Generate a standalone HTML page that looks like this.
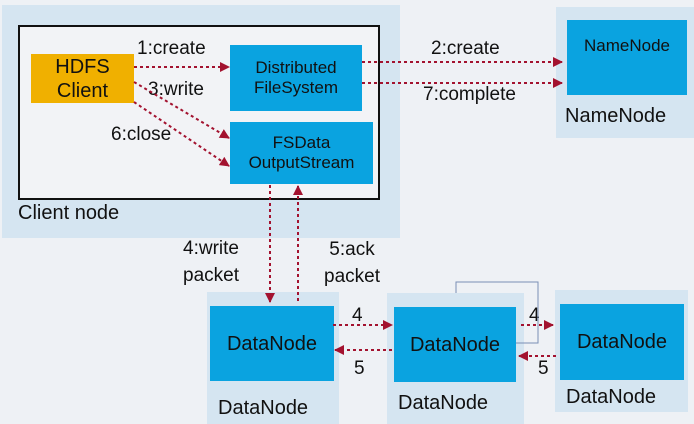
<!DOCTYPE html>
<html><head><meta charset="utf-8"><style>
body{margin:0;width:694px;height:424px;background:#eef1f5;overflow:hidden;font-family:"Liberation Sans",sans-serif;}
.a{position:absolute;}
.o{position:absolute;background:#d5e5f1;}
.b{position:absolute;background:#0aa3e0;color:#111;text-align:center;display:flex;align-items:center;justify-content:center;line-height:1.2;}
.t{position:absolute;color:#111;font-size:19px;white-space:nowrap;}
</style></head><body>
<div class="o" style="left:2px;top:5px;width:398px;height:233px"></div>
<div class="a" style="left:18px;top:25px;width:358px;height:171px;background:#f2f3f6;border:2px solid #111"></div>
<div class="b" style="left:31px;top:54px;width:103px;height:49px;background:#f0b000;font-size:20px">HDFS<br>Client</div>
<div class="b" style="left:230px;top:45px;width:132px;height:66px;font-size:17px">Distributed<br>FileSystem</div>
<div class="b" style="left:230px;top:122px;width:143px;height:62px;font-size:17px">FSData<br>OutputStream</div>
<div class="t" style="left:18px;top:202px;font-size:20px">Client node</div>

<div class="o" style="left:556px;top:7px;width:138px;height:131px"></div>
<div class="b" style="left:567px;top:20px;width:120px;height:75px;font-size:17px;padding-bottom:22px;box-sizing:border-box">NameNode</div>
<div class="t" style="left:565px;top:105px;font-size:20px">NameNode</div>

<div class="o" style="left:207px;top:292px;width:132px;height:132px"></div>
<div class="b" style="left:210px;top:306px;width:124px;height:75px;font-size:20px">DataNode</div>
<div class="t" style="left:218px;top:397px;font-size:20px">DataNode</div>
<div class="o" style="left:387px;top:293px;width:137px;height:131px"></div>
<div class="b" style="left:394px;top:307px;width:122px;height:75px;font-size:20px">DataNode</div>
<div class="t" style="left:398px;top:392px;font-size:20px">DataNode</div>
<div class="o" style="left:555px;top:290px;width:133px;height:122px"></div>
<div class="b" style="left:560px;top:304px;width:124px;height:76px;font-size:20px">DataNode</div>
<div class="t" style="left:566px;top:386px;font-size:20px">DataNode</div>

<div class="t" style="left:137px;top:38px">1:create</div>
<div class="t" style="left:148px;top:79px">3:write</div>
<div class="t" style="left:111px;top:124px">6:close</div>
<div class="t" style="left:431px;top:38px">2:create</div>
<div class="t" style="left:423px;top:84px">7:complete</div>
<div class="t" style="left:183px;top:235px;line-height:27px">4:write<br>packet</div>
<div class="t" style="left:324px;top:236px;line-height:27px">&nbsp;5:ack<br>packet</div>
<div class="t" style="left:352px;top:305px">4</div>
<div class="t" style="left:354px;top:358px">5</div>
<div class="t" style="left:529px;top:305px">4</div>
<div class="t" style="left:538px;top:358px">5</div>

<svg class="a" style="left:0;top:0" width="694" height="424">
<defs><marker id="m" markerWidth="10" markerHeight="10" refX="9" refY="5" orient="auto" markerUnits="userSpaceOnUse"><path d="M0,0L10,5L0,10z" fill="#a3122f"/></marker></defs>
<g stroke="#a3122f" stroke-width="2" stroke-dasharray="3,3" fill="none" marker-end="url(#m)">
<line x1="134" y1="67" x2="229" y2="67"/>
<line x1="134" y1="82" x2="229" y2="138"/>
<line x1="134" y1="102" x2="229" y2="166"/>
<line x1="362" y1="62" x2="562" y2="62"/>
<line x1="362" y1="83" x2="562" y2="83"/>
<line x1="270" y1="185" x2="270" y2="302"/>
<line x1="298" y1="301" x2="298" y2="186"/>
<line x1="333" y1="325" x2="392" y2="325"/>
<line x1="392" y1="350" x2="335" y2="350"/>
<line x1="521" y1="325" x2="553" y2="325"/>
<line x1="556" y1="356" x2="519" y2="356"/>
</g>
<polyline points="456,293 456,282 538,282 538,343 516,343" fill="none" stroke="#7a8fb5" stroke-width="1"/>
</svg>
</body></html>
